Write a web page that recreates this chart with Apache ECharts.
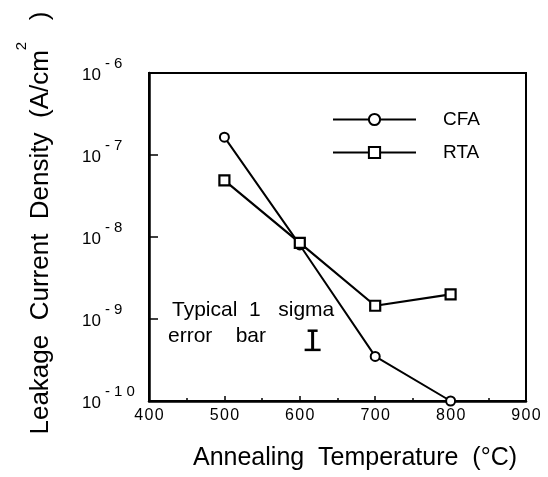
<!DOCTYPE html>
<html>
<head>
<meta charset="utf-8">
<script src="https://cdn.jsdelivr.net/npm/echarts@6/dist/echarts.min.js"></script>
<style>
  html, body { margin: 0; padding: 0; background: #fff; }
  #chart { width: 548px; height: 477px; }
</style>
</head>
<body>
<div id="chart"></div>
<script>
  // 退火温度 (°C)
  const temps = [500, 600, 700, 800]
  // 漏电流密度 (A/cm2)
  const cfaValues = [1.65e-7, 8e-9, 3.5e-10, 1e-10]
  const rtaValues = [4.9e-8, 8.5e-9, 1.45e-9, 2e-9]
  // 典型 1 sigma 误差棒
  const errBarX = [617]
  const errBarLow = [4.2e-10]
  const errBarHigh = [7.2e-10]
  // 刻度
  const xTicks = [400, 500, 600, 700, 800, 900]
  const yExponents = ['- 6', '- 7', '- 8', '- 9', '- 1 0']

  const font = 'Liberation Sans, Arial, sans-serif'
  const chart = echarts.init(document.getElementById('chart'))

  const option = {
    backgroundColor: '#fff',
    animation: false,
    grid: {
      left: 149, right: 22, top: 73, bottom: 76,
      show: true, borderColor: '#000', borderWidth: 2
    },
    //图例
    legend: {
      orient: 'vertical',
      left: 327, top: 105,
      itemWidth: 83, itemHeight: 14, itemGap: 14,
      textStyle: { fontFamily: font, fontSize: 19, color: '#000', padding: [0, 0, 0, 22] },
      data: ['CFA', 'RTA']
    },
    xAxis: {
      type: 'value',
      min: xTicks[0], max: xTicks[xTicks.length - 1], interval: 100,
      axisLine: { show: true, lineStyle: { color: '#000', width: 2.5 } },
      axisTick: { show: true, inside: true, length: 5, lineStyle: { color: '#000', width: 1.5 } },
      minorTick: { show: true, splitNumber: 2, length: 3, lineStyle: { color: '#000', width: 1.5 } },
      splitLine: { show: false },
      axisLabel: {
        margin: 7, color: '#000', fontFamily: font, fontSize: 16,
        formatter: v => String(v).split('').join('\u200a')
      }
    },
    yAxis: {
      type: 'log',
      min: 1e-10, max: 1e-6, logBase: 10,
      axisLine: { show: true, lineStyle: { color: '#000', width: 2.5 } },
      axisTick: { show: true, inside: true, length: 9, lineStyle: { color: '#000', width: 1.5 } },
      splitLine: { show: false },
      axisLabel: {
        margin: 67, align: 'left', color: '#000', fontFamily: font,
        formatter: v => {
          const e = Math.round(-Math.log10(v))
          return '{a|10}{b|' + yExponents[e - 6] + '}'
        },
        rich: {
          a: { fontSize: 17, fontFamily: font, color: '#000', padding: [5, 4, 0, 0] },
          b: { fontSize: 15, fontFamily: font, color: '#000', padding: [0, 0, 18, 0] }
        }
      }
    },
    graphic: [
      {
        type: 'text', x: 355, y: 458,
        style: {
          text: 'Annealing  Temperature  (°C)',
          font: '25px ' + font, fill: '#000', align: 'center', verticalAlign: 'middle'
        }
      },
      {
        type: 'text', x: 41, y: 223, rotation: Math.PI / 2,
        style: {
          text: '{m|Leakage  Current  Density  (A/cm}{s|2}{m|   )}',
          align: 'center', verticalAlign: 'middle',
          rich: {
            m: { font: '26px ' + font, fill: '#000' },
            s: { font: '15px ' + font, fill: '#000', padding: [0, 0, 38, 0] }
          }
        }
      },
      {
        type: 'text', x: 172, y: 310,
        style: { text: 'Typical  1   sigma', font: '21px ' + font, fill: '#000', verticalAlign: 'middle' }
      },
      {
        type: 'text', x: 168, y: 336,
        style: { text: 'error    bar', font: '21px ' + font, fill: '#000', verticalAlign: 'middle' }
      }
    ],
    series: [
      {
        name: 'CFA', type: 'line',
        data: temps.map((t, i) => [t, cfaValues[i]]),
        symbol: 'circle', symbolSize: 9, showAllSymbol: true,
        lineStyle: { color: '#000', width: 2 },
        itemStyle: { color: '#fff', borderColor: '#000', borderWidth: 2 }
      },
      {
        name: 'RTA', type: 'line',
        data: temps.map((t, i) => [t, rtaValues[i]]),
        symbol: 'rect', symbolSize: 10, showAllSymbol: true,
        lineStyle: { color: '#000', width: 2.2 },
        itemStyle: { color: '#fff', borderColor: '#000', borderWidth: 2.2 }
      },
      {
        name: 'errbar', type: 'custom',
        data: errBarX.map((x, i) => [x, errBarLow[i], errBarHigh[i]]),
        renderItem: (params, api) => {
          const lo = api.coord([api.value(0), api.value(1)])
          const hi = api.coord([api.value(0), api.value(2)])
          const hw = 8
          const st = { stroke: '#000', lineWidth: 2.5 }
          return {
            type: 'group',
            children: [
              { type: 'line', shape: { x1: lo[0], y1: lo[1], x2: hi[0], y2: hi[1] }, style: { stroke: '#000', lineWidth: 3 } },
              { type: 'line', shape: { x1: lo[0] - hw, y1: lo[1], x2: lo[0] + hw, y2: lo[1] }, style: st },
              { type: 'line', shape: { x1: hi[0] - hw / 2 - 1, y1: hi[1], x2: hi[0] + hw / 2 + 1, y2: hi[1] }, style: st }
            ]
          }
        },
        z: 5
      }
    ]
  }
  chart.setOption(option)
</script>
</body>
</html>
